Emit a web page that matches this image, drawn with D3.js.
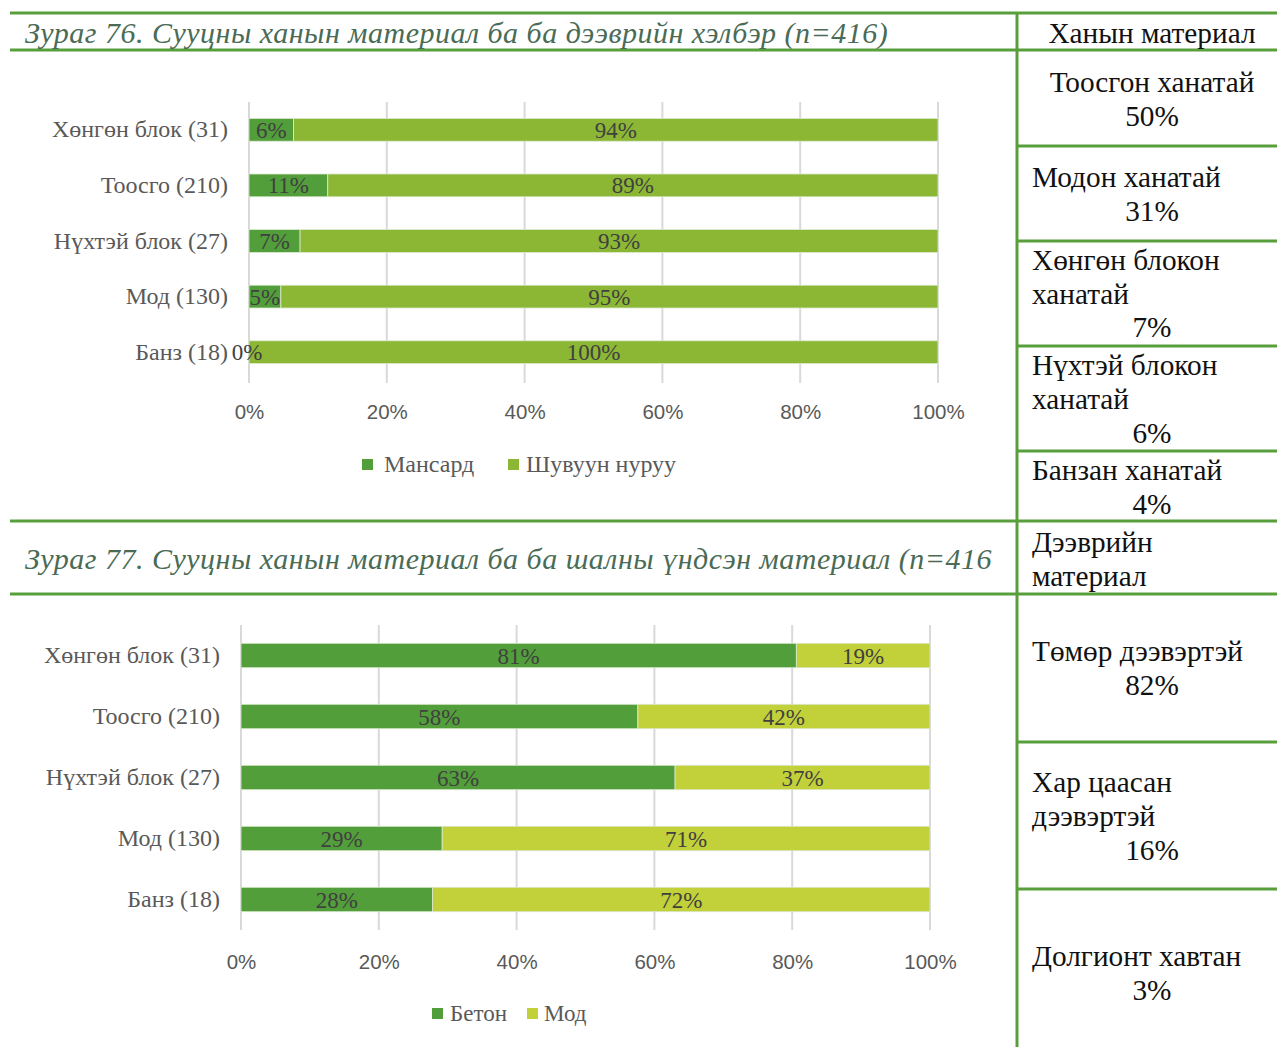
<!DOCTYPE html>
<html><head><meta charset="utf-8">
<script src="https://cdn.jsdelivr.net/npm/d3@7/dist/d3.min.js"></script>
<style>
body{margin:0;background:#fff;}
svg{display:block;}
</style></head>
<body>
<svg id="c" width="1277" height="1047"></svg>
<script>
// ---- data ----
const categories = ["Хөнгөн блок (31)", "Тоосго (210)", "Нүхтэй блок (27)", "Мод (130)", "Банз (18)"];
const roofSeriesNames = ["Мансард", "Шувуун нуруу"];
const roofMansard = [6.45, 11.43, 7.41, 4.62, 0];
const roofShuvuun = [93.55, 88.57, 92.59, 95.38, 100];
const floorSeriesNames = ["Бетон", "Мод"];
const floorBeton = [80.6, 57.6, 63.0, 29.2, 27.8];
const floorMod = [19.4, 42.4, 37.0, 70.8, 72.2];
const tickValues = [0, 20, 40, 60, 80, 100];
const title1 = "Зураг 76. Сууцны ханын материал ба ба дээврийн хэлбэр (n=416)";
const title2 = "Зураг 77. Сууцны ханын материал ба ба шалны үндсэн материал (n=416";
const wallHeader = "Ханын материал";
const wallItems = [["Тоосгон ханатай", "50%"], ["Модон ханатай", "31%"], ["Хөнгөн блокон", "ханатай", "7%"], ["Нүхтэй блокон", "ханатай", "6%"], ["Банзан ханатай", "4%"]];
const roofHeader = ["Дээврийн", "материал"];
const roofItems = [["Төмөр дээвэртэй", "82%"], ["Хар цаасан", "дээвэртэй", "16%"], ["Долгионт хавтан", "3%"]];

const svg = d3.select("#c");
const GREEN = "#589f3c";
const SERIF = "'Liberation Serif','Times New Roman',serif";
const SANS = "'Liberation Sans',Arial,sans-serif";

// ---- frame lines ----
const lineW = 3;
function hline(x1, x2, y) { svg.append("line").attr("x1", x1).attr("x2", x2).attr("y1", y).attr("y2", y).attr("stroke", GREEN).attr("stroke-width", lineW); }
hline(10, 1277, 13);
hline(10, 1277, 50);
hline(10, 1277, 521);
hline(10, 1277, 594);
[146, 241, 346, 451, 742, 889].forEach(y => hline(1017, 1277, y));
svg.append("line").attr("x1", 1017).attr("x2", 1017).attr("y1", 12).attr("y2", 1047).attr("stroke", GREEN).attr("stroke-width", lineW);

// ---- titles ----
svg.append("text").attr("x", 25).attr("y", 43).text(title1)
  .attr("font-family", SERIF).attr("font-style", "italic").attr("font-size", 30).attr("letter-spacing", 0.5).attr("fill", "#4a6b55");
svg.append("text").attr("x", 25).attr("y", 569).text(title2)
  .attr("font-family", SERIF).attr("font-style", "italic").attr("font-size", 30).attr("letter-spacing", 0.5).attr("fill", "#4a6b55");

// ---- right panel text ----
function rt(x, y, s, anchor) {
  svg.append("text").attr("x", x).attr("y", y).text(s).attr("text-anchor", anchor)
    .attr("font-family", SERIF).attr("font-size", 29.3).attr("fill", "#111");
}
rt(1152, 43, wallHeader, "middle");
rt(1152, 92, wallItems[0][0], "middle"); rt(1152, 126, wallItems[0][1], "middle");
rt(1032, 187, wallItems[1][0], "start"); rt(1152, 221, wallItems[1][1], "middle");
rt(1032, 270, wallItems[2][0], "start"); rt(1032, 304, wallItems[2][1], "start"); rt(1152, 337, wallItems[2][2], "middle");
rt(1032, 375, wallItems[3][0], "start"); rt(1032, 409, wallItems[3][1], "start"); rt(1152, 443, wallItems[3][2], "middle");
rt(1032, 480, wallItems[4][0], "start"); rt(1152, 514, wallItems[4][1], "middle");
rt(1032, 552, roofHeader[0], "start"); rt(1032, 586, roofHeader[1], "start");
rt(1032, 661, roofItems[0][0], "start"); rt(1152, 695, roofItems[0][1], "middle");
rt(1032, 792, roofItems[1][0], "start"); rt(1032, 826, roofItems[1][1], "start"); rt(1152, 860, roofItems[1][2], "middle");
rt(1032, 966, roofItems[2][0], "start"); rt(1152, 1000, roofItems[2][1], "middle");

// ---- stacked bar chart ----
function chart(cfg) {
  const g = svg.append("g");
  const x = d3.scaleLinear().domain([0, 100]).range([cfg.x0, cfg.x1]);
  const y = d3.scaleBand().domain(categories).range([cfg.y0, cfg.y1]).paddingInner(cfg.pad).paddingOuter(cfg.pad / 2);
  // gridlines
  g.selectAll(".grid").data(tickValues).enter().append("line")
    .attr("x1", d => x(d)).attr("x2", d => x(d)).attr("y1", cfg.gy0).attr("y2", cfg.gy1)
    .attr("stroke", "#d9d9d9").attr("stroke-width", 2);
  const rows = categories.map((c, i) => ({ c, a: cfg.s1[i], b: cfg.s2[i] }));
  rows.forEach(r => {
    const segs = [{ x0: 0, x1: r.a, col: cfg.c1 }, { x0: r.a, x1: 100, col: cfg.c2 }];
    segs.forEach(s => {
      g.append("rect").attr("x", x(s.x0)).attr("y", y(r.c)).attr("width", x(s.x1) - x(s.x0)).attr("height", y.bandwidth())
        .attr("fill", s.col).attr("stroke", "#dbe9cf").attr("stroke-width", 0.8);
    });
    segs.forEach(s => {
      g.append("text").attr("x", (x(s.x0) + x(s.x1)) / 2 + (s.x1 - s.x0 < 1 ? -2 : 0)).attr("y", y(r.c) + y.bandwidth() / 2 + 8)
        .attr("text-anchor", "middle").attr("font-family", SERIF).attr("font-size", 23).attr("fill", "#404040")
        .text(d3.format(".0f")(s.x1 - s.x0) + "%");
    });
  });
  // category axis labels
  const ya = d3.axisLeft(y).tickSize(0).tickPadding(0);
  const yg = g.append("g").attr("transform", `translate(${cfg.labelX},0)`).call(ya);
  yg.select(".domain").remove();
  yg.selectAll("text").attr("font-family", SERIF).attr("font-size", 24).attr("fill", "#595959").attr("dy", "0.32em");
  // x axis
  const xa = d3.axisBottom(x).tickValues(tickValues).tickFormat(d => d + "%").tickSize(0).tickPadding(0);
  const xg = g.append("g").attr("transform", `translate(0,${cfg.tickY})`).call(xa);
  xg.select(".domain").remove();
  xg.selectAll("text").attr("font-family", SANS).attr("font-size", 20.5).attr("fill", "#595959").attr("dy", "0.32em");
  // legend
  cfg.legend.forEach((L, i) => {
    g.append("rect").attr("x", L.x).attr("y", cfg.legY - 6).attr("width", 11).attr("height", 11).attr("fill", i === 0 ? cfg.c1 : cfg.c2);
    g.append("text").attr("x", L.x + L.dx).attr("y", cfg.legY + 7).text(cfg.names[i])
      .attr("font-family", SERIF).attr("font-size", cfg.legFont).attr("fill", "#595959");
  });
}

chart({ x0: 249, x1: 938, y0: 102, y1: 380, pad: 0.59, gy0: 102, gy1: 383, labelX: 228,
  s1: roofMansard, s2: roofShuvuun, c1: "#529e3a", c2: "#8bb735", tickY: 412, legFont: 24,
  names: roofSeriesNames, legY: 465, legend: [{ x: 362, dx: 22 }, { x: 508, dx: 18 }] });

chart({ x0: 241, x1: 930, y0: 625, y1: 930, pad: 0.6, gy0: 625, gy1: 930, labelX: 220,
  s1: floorBeton, s2: floorMod, c1: "#529e3a", c2: "#c2d03a", tickY: 962, legFont: 23,
  names: floorSeriesNames, legY: 1014, legend: [{ x: 432, dx: 18 }, { x: 527, dx: 17 }] });
</script>
</body></html>
